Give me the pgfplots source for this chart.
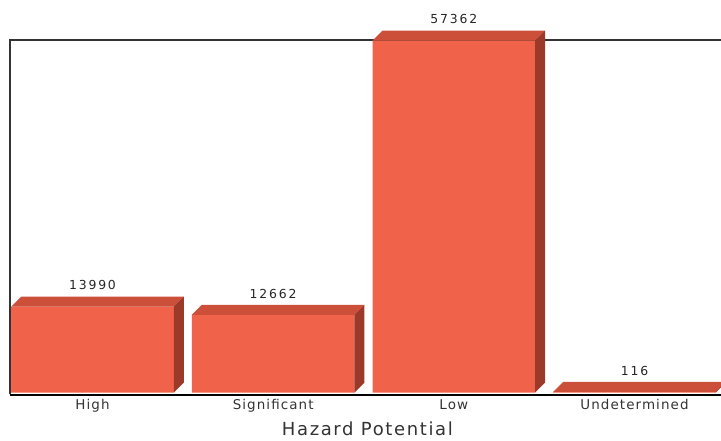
\documentclass[border=0pt]{standalone}
\usepackage{pgfplots}
\usepackage{pgfplotstable}
\pgfplotsset{compat=1.18}
\usepackage{fontspec}
\setmainfont{DejaVu Sans}
\newfontfamily\tickfont[LetterSpace=8]{DejaVu Sans}
\newfontfamily\numfont[LetterSpace=15]{DejaVu Sans}
\newfontfamily\titlefont[LetterSpace=9]{DejaVu Sans}

\definecolor{frontc}{HTML}{F0634A}
\definecolor{topc}{HTML}{CC5039}
\definecolor{sidec}{HTML}{9B3A29}
\definecolor{txt}{HTML}{333333}
\definecolor{frame}{HTML}{333333}
\definecolor{baseline}{HTML}{666666}

% dam counts by hazard potential
\pgfplotstableread{
x v
0 13990
1 12662
2 57362
3 116
}\hazard

% depth of the extruded faces, in data units
\def\dx{0.0554}
\def\dy{1630}
\def\hw{0.45}

\begin{document}
\begin{tikzpicture}
% frame: left and top in dark, bottom in grey
\draw[frame, line width=1.2pt] (7.275pt,34.3pt) -- (7.275pt,300pt) -- (545pt,300pt);
\draw[baseline, line width=1.5pt] (7.275pt,34pt) -- (545pt,34pt);
\begin{axis}[
  at={(7.275pt,34.3pt)}, anchor=south west,
  scale only axis, width=536.5pt, height=265.7pt,
  xmin=-0.458, xmax=3.501, ymin=-277, ymax=57460,
  clip=false,
  axis line style={draw=none},
  major tick length=0pt,
  ytick=\empty,
  xtick={0,1,2,3},
  xticklabels={High,Significant,Low,Undetermined},
  xticklabel style={font=\tickfont\fontsize{10.1pt}{12pt}\selectfont, text=txt, anchor=base, yshift=-11.4pt},
  every axis x label/.style={at={(axis description cs:0.5,0)}, anchor=base, yshift=-30.8pt},
  xlabel={Hazard Potential},
  xlabel style={font=\titlefont\fontsize{13.5pt}{16pt}\selectfont, text=txt},
  /pgf/number format/1000 sep={},
  /pgf/number format/assume math mode=true,
]
\addplot[ybar, bar width=0.9, bar shift=0pt, fill=frontc, draw=none,
  nodes near coords,
  every node near coord/.append style={font=\numfont\fontsize{9.3pt}{11pt}\selectfont, text=black!85, anchor=base, yshift=12.6pt}]
  table[x=x, y=v] {\hazard};
\pgfplotsinvokeforeach{0,1,2,3}{
  \pgfplotstablegetelem{#1}{v}\of\hazard
  \edef\val{\pgfplotsretval}
  \pgfmathsetmacro\xl{#1-\hw}
  \pgfmathsetmacro\xr{#1+\hw}
  \pgfmathsetmacro\xlb{#1-\hw+\dx}
  \pgfmathsetmacro\xrb{#1+\hw+\dx}
  \edef\vt{\the\numexpr\val+\dy\relax}
  \addplot[fill=topc, draw=none] coordinates {(\xl,\val) (\xr,\val) (\xrb,\vt) (\xlb,\vt)} -- cycle;
  \addplot[fill=sidec, draw=none] coordinates {(\xr,0) (\xrb,\dy) (\xrb,\vt) (\xr,\val)} -- cycle;
}
\end{axis}
\pgfresetboundingbox
\path (0,0) rectangle (540.75pt,330pt);
\end{tikzpicture}
\end{document}
